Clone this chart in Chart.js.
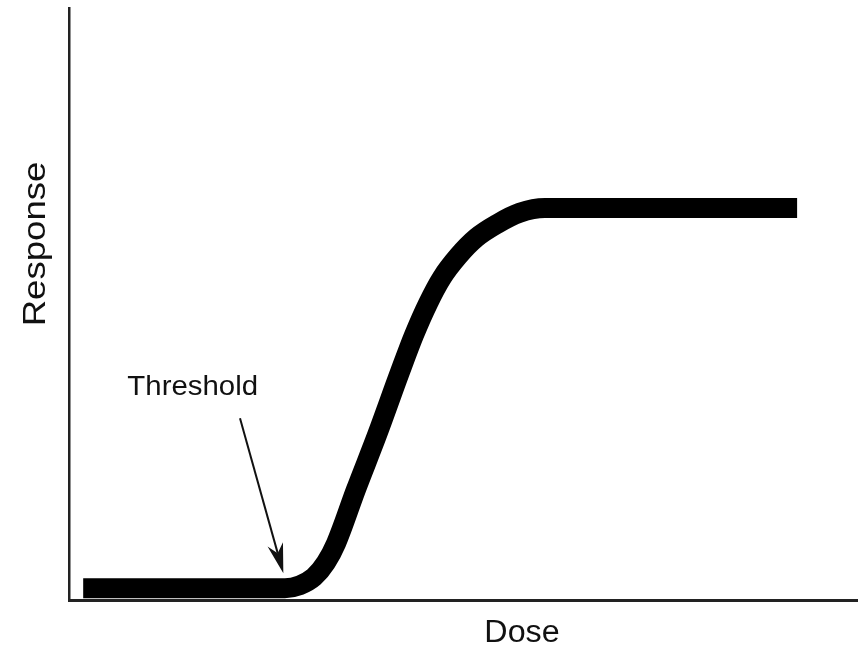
<!DOCTYPE html>
<html>
<head>
<meta charset="utf-8">
<script src="https://cdn.jsdelivr.net/npm/chart.js"></script>
<style>
  html, body { margin: 0; padding: 0; background: #fff; }
  canvas { display: block; }
</style>
</head>
<body>
<canvas id="doseChart" width="862" height="648"></canvas>
<script>
// dose-response curve, both axes in arbitrary units (0-100)
const doses = [1.8, 27.4, 29.3, 31.1, 32.6, 33.9, 36.4, 39.1, 42.0, 43.8, 45.6, 47.3, 49.4, 51.7, 54.3, 57.2, 60.4, 92.4];
const responses = [2, 2, 2.5, 3.9, 6.3, 9.6, 18.6, 27.9, 38.5, 44.8, 50.2, 54.4, 58.1, 61.2, 63.5, 65.4, 66.2, 66.2];

// threshold annotation: label, arrow tail and arrow tip (data units)
const thresholdLabel = { dose: 15.7, response: 34.6, text: "Threshold" };
const arrowTail = { dose: 21.7, response: 30.7 };
const arrowTip = { dose: 27.2, response: 4.5 };

const labelFont = '"Liberation Sans", Arial, sans-serif';

const annotations = {
    id: "annotations",
    afterDatasetsDraw(chart) {
        const { ctx, scales: { x, y } } = chart;
        ctx.save();
        ctx.fillStyle = "#111";
        ctx.strokeStyle = "#111";

        // threshold label
        ctx.font = "28px " + labelFont;
        ctx.textAlign = "center";
        ctx.textBaseline = "alphabetic";
        ctx.save();
        ctx.translate(x.getPixelForValue(thresholdLabel.dose), y.getPixelForValue(thresholdLabel.response));
        ctx.scale(1.05, 1);
        ctx.fillText(thresholdLabel.text, 0, 0);
        ctx.restore();

        // arrow
        const x0 = x.getPixelForValue(arrowTail.dose), y0 = y.getPixelForValue(arrowTail.response);
        const x1 = x.getPixelForValue(arrowTip.dose), y1 = y.getPixelForValue(arrowTip.response);
        const ang = Math.atan2(y1 - y0, x1 - x0);
        const c = Math.cos(ang), s = Math.sin(ang);
        const headLen = 30, headW = 8;
        ctx.lineWidth = 2;
        ctx.beginPath();
        ctx.moveTo(x0, y0);
        ctx.lineTo(x1 - c * headLen * 0.7, y1 - s * headLen * 0.7);
        ctx.stroke();
        ctx.beginPath();
        ctx.moveTo(x1, y1);
        ctx.lineTo(x1 - c * headLen - s * headW, y1 - s * headLen + c * headW);
        ctx.lineTo(x1 - c * headLen * 0.7, y1 - s * headLen * 0.7);
        ctx.lineTo(x1 - c * headLen + s * headW, y1 - s * headLen - c * headW);
        ctx.closePath();
        ctx.fill();

        // axis titles (placed off-centre like the original figure)
        const area = chart.chartArea;
        ctx.font = "31px " + labelFont;
        ctx.save();
        ctx.translate(area.left + 453, area.bottom + 42);
        ctx.scale(1.04, 1);
        ctx.fillText("Dose", 0, 0);
        ctx.restore();

        ctx.save();
        ctx.translate(area.left - 24, area.top + 236);
        ctx.rotate(-Math.PI / 2);
        ctx.scale(1.18, 1);
        ctx.fillText("Response", 0, 0);
        ctx.restore();

        ctx.restore();
    }
};

new Chart(document.getElementById("doseChart"), {
    type: "line",
    data: {
        datasets: [{
            data: doses.map((d, i) => ({ x: d, y: responses[i] })),
            borderColor: "#000",
            borderWidth: 20,
            borderCapStyle: "butt",
            borderJoinStyle: "round",
            cubicInterpolationMode: "monotone",
            pointRadius: 0,
            fill: false,
            clip: false
        }]
    },
    options: {
        responsive: false,
        animation: false,
        layout: { padding: { left: 69, top: 8, right: 5, bottom: 48 } },
        plugins: { legend: { display: false }, tooltip: { enabled: false } },
        scales: {
            x: {
                type: "linear",
                min: 0,
                max: 100,
                grid: { display: false, drawTicks: false },
                ticks: { display: false },
                border: { display: true, color: "#222", width: 3 }
            },
            y: {
                min: 0,
                max: 100,
                grid: { display: false, drawTicks: false },
                ticks: { display: false },
                border: { display: true, color: "#222", width: 2.5 }
            }
        }
    },
    plugins: [annotations]
});
</script>
</body>
</html>
